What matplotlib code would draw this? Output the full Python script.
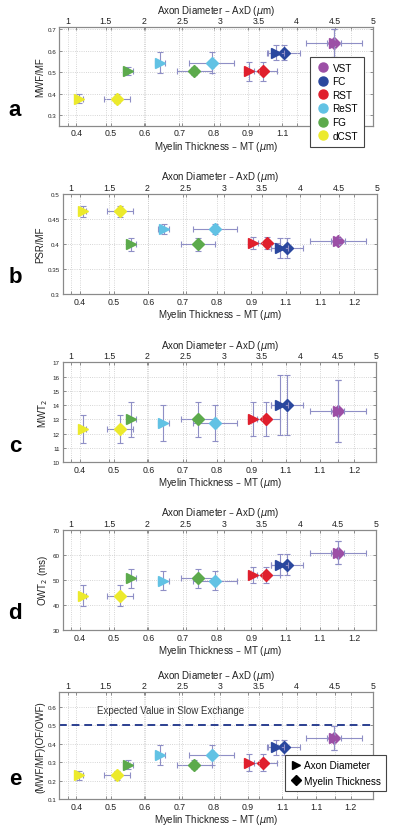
import numpy as np
import matplotlib
matplotlib.use('Agg')
import matplotlib.pyplot as plt
from matplotlib.lines import Line2D

plt.rcParams['font.family'] = ['Liberation Sans', 'DejaVu Sans']

# tracts and colours
tracts = ['VST', 'FC', 'RST', 'ReST', 'FG', 'dCST']
colors = ['#9c4fa6', '#2a479e', '#e01f2d', '#62c2e4', '#5caa4c', '#ecea2c']

# axon diameter (top axis, triangles) and myelin thickness (bottom axis, diamonds)
axd = [4.49, 3.73, 3.38, 2.21, 1.79, 1.15]
axd_err = [0.09, 0.11, 0.06, 0.07, 0.06, 0.05]
mt = [1.152, 1.004, 0.944, 0.794, 0.744, 0.518]
mt_err = [0.082, 0.047, 0.04, 0.065, 0.05, 0.038]

# y values per panel
mwf = [0.637, 0.592, 0.505, 0.545, 0.506, 0.376]
mwf_err = [0.065, 0.035, 0.045, 0.05, 0.02, 0.02]
psr = [0.406, 0.393, 0.402, 0.43, 0.40, 0.466]
psr_err = [0.006, 0.02, 0.012, 0.01, 0.013, 0.011]
mwt2 = [13.57, 14.0, 13.05, 12.73, 13.0, 12.33]
mwt2_err = [2.17, 2.12, 1.2, 1.25, 1.2, 0.97]
owt2 = [60.8, 56.0, 51.9, 49.7, 50.6, 43.7]
owt2_err = [4.5, 4.2, 3.1, 3.85, 3.7, 4.1]
ratio = [0.43, 0.381, 0.298, 0.339, 0.287, 0.228]
ratio_err = [0.066, 0.04, 0.048, 0.055, 0.025, 0.025]

mt_ticks = [0.4, 0.5, 0.6, 0.7, 0.8, 0.9, 1.0, 1.1, 1.2]
mt_ticklabels = ['0.4', '0.5', '0.6', '0.7', '0.8', '0.9', '1.1', '1.1', '1.2']
axd_ticks = [1, 1.5, 2, 2.5, 3, 3.5, 4, 4.5, 5]
axd_ticklabels = ['1', '1.5', '2', '2.5', '3', '3.5', '4', '4.5', '5']

panels = [
    ('a', mwf, mwf_err, 'MWF/MF', (0.25, 0.71), [0.3, 0.4, 0.5, 0.6, 0.7],
     ['0.3', '0.4', '0.5', '0.6', '0.7'], [59.3, 373, 28.3, 126.7]),
    ('b', psr, psr_err, 'PSR/MF', (0.3, 0.5), [0.3, 0.35, 0.4, 0.45, 0.5],
     ['0.3', '0.35', '0.4', '0.45', '0.5'], [62.7, 376.7, 195, 295]),
    ('c', mwt2, mwt2_err, 'MWT$_2$', (10, 17), list(range(10, 18)),
     [str(v) for v in range(10, 18)], [62.7, 376.5, 363.3, 463.3]),
    ('d', owt2, owt2_err, 'OWT$_2$ (ms)', (30, 70), [30, 40, 50, 60, 70],
     ['30', '40', '50', '60', '70'], [62.7, 376.5, 530.7, 631]),
    ('e', ratio, ratio_err, '(MWF/MF)(OF/OWF)', (0.1, 0.68), [0.1, 0.2, 0.3, 0.4, 0.5, 0.6],
     ['0.1', '0.2', '0.3', '0.4', '0.5', '0.6'], [59.3, 373, 693.3, 800]),
]

W, H = 400, 829
fig = plt.figure(figsize=(W / 100, H / 100), dpi=100)

ecol = '#8f8fc6'
grid_kw = dict(ls=':', color='#c8c8c8', lw=0.6)

for letter, yv, ye, ylab, ylim, yt, ytl, (l, r, t, b) in panels:
    ax = fig.add_axes([l / W, 1 - b / H, (r - l) / W, (b - t) / H])
    ax2 = ax.twiny()

    for i in range(len(tracts)):
        ax.errorbar(mt[i], yv[i], xerr=mt_err[i], yerr=ye[i], fmt='D', ms=5.8,
                    mfc=colors[i], mec=colors[i], ecolor=ecol, elinewidth=0.8,
                    capsize=2, capthick=0.8)
        ax2.errorbar(axd[i], yv[i], xerr=axd_err[i], yerr=ye[i], fmt='>', ms=7,
                     mfc=colors[i], mec=colors[i], ecolor=ecol, elinewidth=0.8,
                     capsize=2, capthick=0.8)

    ax.set_xlim(0.35, 1.265)
    ax2.set_xlim(0.89, 5.0)
    ax.set_ylim(*ylim)

    ax.set_xticks(mt_ticks)
    ax.set_xticklabels(mt_ticklabels, fontsize=6.3)
    ax2.set_xticks(axd_ticks)
    ax2.set_xticklabels(axd_ticklabels, fontsize=6.3)
    ax.set_yticks(yt)
    ax.set_yticklabels(ytl, fontsize=4.5)

    ax.tick_params(axis='x', direction='in', top=True, bottom=True, labeltop=False,
                   length=2.5, width=0.5, pad=2, colors='#666666', labelcolor='#222222')
    ax.tick_params(axis='y', direction='in', left=True, right=True,
                   length=2.5, width=0.5, pad=2, colors='#666666', labelcolor='#222222')
    ax2.tick_params(axis='x', direction='in', top=True, bottom=True, labeltop=True,
                    labelbottom=False, length=2.5, width=0.5, pad=1.5,
                    colors='#666666', labelcolor='#222222')

    ax.grid(True, **grid_kw)
    ax2.grid(True, axis='x', **grid_kw)
    for a_ in (ax, ax2):
        for s in a_.spines.values():
            s.set_color('#8a8a8a')
            s.set_linewidth(0.8)

    ax.set_xlabel('Myelin Thickness \u2013 MT ($\\mu$m)', fontsize=7, labelpad=1, color='#222222')
    ax2.set_xlabel('Axon Diameter \u2013 AxD ($\\mu$m)', fontsize=7, labelpad=2.5, color='#222222')
    ax.set_ylabel(ylab, fontsize=7, labelpad=2, color='#222222')

    fig.text(15 / W, 1 - ((t + b) / 2 + 33) / H, letter, fontsize=16, fontweight='bold',
             ha='center', va='center')

    if letter == 'a':
        handles = [Line2D([], [], ls='none', marker='o', ms=6.5, mfc=c, mec=c) for c in colors]
        leg = ax2.legend(handles, tracts, loc='upper left', fontsize=7.2,
                         bbox_to_anchor=(310 / W, 1 - 57.7 / H), bbox_transform=fig.transFigure,
                         fancybox=False, framealpha=1, edgecolor='#444444',
                         handletextpad=0.35, labelspacing=0.36, borderpad=0.6,
                         handlelength=1.3, borderaxespad=0)
        leg.get_frame().set_linewidth(0.8)

    if letter == 'e':
        ax.axhline(0.5, color='#2b3f90', ls='--', lw=1.4, dashes=(4, 2.5))
        ax.text(0.12, 0.83, 'Expected Value in Slow Exchange', transform=ax.transAxes,
                fontsize=7, color='#333333', va='center')
        handles = [Line2D([], [], ls='none', marker='>', ms=6, color='k'),
                   Line2D([], [], ls='none', marker='D', ms=5, color='k')]
        leg = ax2.legend(handles, ['Axon Diameter', 'Myelin Thickness'], loc='upper left',
                         fontsize=7.2, bbox_to_anchor=(285 / W, 1 - 755.7 / H),
                         bbox_transform=fig.transFigure, fancybox=False, framealpha=1,
                         edgecolor='#444444', handletextpad=0.3, labelspacing=0.55,
                         borderpad=0.55, handlelength=1.0, borderaxespad=0)
        leg.get_frame().set_linewidth(0.8)

fig.savefig('out.png', dpi=100)
